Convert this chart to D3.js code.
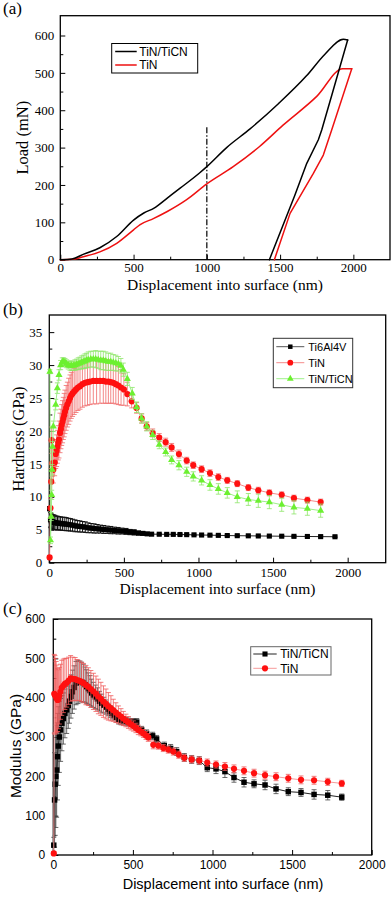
<!DOCTYPE html>
<html>
<head>
<meta charset="utf-8">
<script src="https://cdnjs.cloudflare.com/ajax/libs/d3/7.8.5/d3.min.js"></script>
<style>
  body { margin: 0; background: #fff; }
</style>
</head>
<body>
<div id="main"></div>
<script>
// ---------- (a) load vs displacement ----------
// loading branch then unloading branch; the hold point is shared
const ticnLoadDepth = [0, 80, 160, 270, 385, 500, 570, 640, 730, 820, 950, 1000, 1135, 1295, 1490, 1680, 1806, 1932, 1961];
const ticnLoad      = [0, 2, 15, 32, 62, 106, 125, 138, 165, 192, 232, 249, 300, 350, 418, 492, 550, 590, 588];
const ticnUnloadDepth = [1961, 1860, 1784, 1761, 1682, 1600, 1427];
const ticnUnload      = [588, 450, 347, 321, 258, 172, 0];
const tinLoadDepth  = [0, 100, 157, 270, 385, 500, 545, 635, 730, 860, 1000, 1180, 1360, 1520, 1750, 1927, 1989];
const tinLoad       = [0, 2, 8, 21, 44, 80, 94, 110, 129, 160, 203, 249, 303, 360, 437, 511, 511];
const tinUnloadDepth = [1989, 1852, 1795, 1727, 1568, 1499, 1461];
const tinUnload      = [511, 347, 280, 231, 124, 44, 0];
const markDepth = [1000, 1000];
const markLoad  = [0, 358];

// ---------- (b) hardness ----------
const ti64Depth = [2, 8, 14, 20, 28, 36, 45, 55, 65, 76,
                   88, 100, 113, 127, 141, 156, 172, 188, 205, 223,
                   241, 260, 280, 300, 321, 343, 365, 388, 412, 436,
                   461, 487, 514, 541, 569, 598, 627, 656, 686, 737,
                   787, 831, 876, 921, 970, 1021, 1077, 1133, 1193, 1260,
                   1334, 1401, 1475, 1558, 1640, 1730, 1819, 1915];
const ti64Hard  = [8.2, 6.5, 6.3, 6.2, 6.15, 6.1, 6.05, 6.0, 6.0, 5.95,
                   5.9, 5.9, 5.85, 5.8, 5.75, 5.7, 5.6, 5.55, 5.5, 5.45,
                   5.4, 5.3, 5.25, 5.2, 5.15, 5.1, 5.05, 5.0, 4.95, 4.9,
                   4.85, 4.8, 4.75, 4.65, 4.6, 4.5, 4.45, 4.38, 4.33, 4.32,
                   4.3, 4.3, 4.28, 4.26, 4.23, 4.2, 4.18, 4.15, 4.12, 4.1,
                   4.08, 4.06, 4.04, 4.02, 4.0, 3.98, 3.96, 3.94];
const ti64Err   = [0.3, 1.1, 1.1, 1.1, 1.1, 1.1, 1.05, 1.05, 1.0, 1.0,
                   1.0, 1.0, 1.0, 0.95, 0.95, 0.9, 0.9, 0.85, 0.85, 0.8,
                   0.8, 0.75, 0.7, 0.7, 0.65, 0.6, 0.6, 0.55, 0.55, 0.5,
                   0.5, 0.45, 0.45, 0.4, 0.4, 0.3, 0.25, 0.15, 0.1, 0.1,
                   0.1, 0.1, 0.1, 0.1, 0.1, 0.1, 0.1, 0.1, 0.1, 0.1,
                   0.1, 0.1, 0.1, 0.1, 0.1, 0.1, 0.1, 0.1];

const tinDepth = [2, 8, 13, 16, 19, 27, 36, 43, 49, 54,
                  60, 65, 72, 78, 83, 89, 94, 100, 105, 113,
                  121, 130, 139, 147, 156, 167, 179, 192, 206, 222,
                  239, 256, 273, 295, 317, 340, 362, 379, 396, 412,
                  429, 446, 463, 481, 500, 523, 552, 585, 619, 653,
                  693, 737, 780, 820, 869, 921, 965, 1021, 1077, 1133,
                  1193, 1260, 1334, 1401, 1475, 1558, 1640, 1730, 1819];
const tinHard  = [0.8, 8.3, 12.3, 18.6, 15.1, 14.1, 15.2, 16.5, 17.0, 17.6,
                  18.2, 18.7, 19.7, 20.3, 20.9, 21.4, 21.9, 22.4, 22.9, 23.5,
                  24.0, 24.5, 25.0, 25.4, 25.7, 26.0, 26.3, 26.6, 26.8, 27.1,
                  27.3, 27.4, 27.5, 27.6, 27.6, 27.6, 27.6, 27.5, 27.5, 27.4,
                  27.3, 27.1, 26.9, 26.6, 26.3, 25.6, 24.5, 23.5, 21.9, 20.7,
                  19.7, 19.0, 18.3, 17.5, 16.5, 15.5, 14.8, 14.2, 13.6, 13.0,
                  12.5, 12.0, 11.4, 11.0, 10.6, 10.3, 9.8, 9.5, 9.2];
const tinErr   = [0.3, 1.5, 2, 2, 2, 2, 2, 2.2, 2.4, 2.5,
                  2.6, 2.8, 3, 3, 3.1, 3.2, 3.2, 3.3, 3.3, 3.4,
                  3.4, 3.5, 3.5, 3.5, 3.5, 3.5, 3.5, 3.5, 3.5, 3.5,
                  3.5, 3.5, 3.5, 3.5, 3.5, 3.4, 3.4, 3.3, 3.3, 3.2,
                  3.1, 3.0, 2.9, 2.7, 2.4, 1.8, 1.0, 0.8, 0.7, 0.6,
                  0.6, 0.6, 0.6, 0.6, 0.6, 0.5, 0.5, 0.5, 0.5, 0.5,
                  0.45, 0.45, 0.45, 0.45, 0.45, 0.45, 0.45, 0.45, 0.45];

const ticnDepth = [4, 8, 13, 16, 19, 22, 27, 43, 54, 65,
                   76, 87, 96, 105, 116, 127, 139, 150, 161, 172,
                   183, 194, 206, 217, 228, 239, 250, 261, 278, 295,
                   311, 328, 345, 362, 379, 396, 412, 429, 446, 463,
                   480, 496, 523, 556, 585, 619, 653, 693, 737, 780,
                   820, 869, 921, 965, 1021, 1077, 1133, 1193, 1260, 1334,
                   1401, 1475, 1558, 1640, 1730, 1819];
const ticnHard  = [29.0, 3.4, 7.0, 10.3, 14.1, 17.6, 20.7, 24.0, 26.5, 28.5,
                   30.0, 30.5, 30.5, 30.4, 30.2, 30.0, 29.9, 29.9, 29.9, 30.0,
                   30.1, 30.2, 30.3, 30.4, 30.5, 30.6, 30.7, 30.8, 30.9, 30.9,
                   30.9, 30.8, 30.7, 30.7, 30.6, 30.5, 30.5, 30.4, 30.3, 30.2,
                   29.9, 29.3, 27.9, 25.7, 23.6, 21.9, 20.7, 19.4, 17.9, 16.8,
                   15.6, 14.8, 13.8, 13.1, 12.5, 11.8, 11.2, 10.6, 10.0, 9.6,
                   9.4, 9.2, 8.8, 8.4, 8.2, 7.9];
const ticnErr   = [0.3, 0.5, 0.6, 0.7, 0.8, 0.8, 0.8, 0.8, 0.8, 0.8,
                   0.7, 0.6, 0.6, 0.6, 0.6, 0.6, 0.7, 0.7, 0.7, 0.8,
                   0.8, 0.9, 0.9, 1.0, 1.0, 1.1, 1.1, 1.2, 1.2, 1.2,
                   1.3, 1.3, 1.4, 1.4, 1.4, 1.3, 1.3, 1.2, 1.2, 1.1,
                   1.1, 1.0, 1.0, 0.9, 0.8, 0.7, 0.7, 0.7, 0.6, 0.6,
                   0.6, 0.7, 0.7, 0.7, 0.7, 0.8, 0.8, 0.8, 0.9, 0.9,
                   1.0, 1.0, 1.0, 1.0, 1.0, 1.0];

// ---------- (c) modulus ----------
const ticnModDepth = [3, 8, 12, 16, 21, 26, 31, 38, 46, 54,
                      63, 73, 84, 94, 101, 111, 120, 131, 143, 155,
                      168, 178, 189, 200, 210, 220, 231, 241, 252, 264,
                      277, 290, 304, 317, 331, 344, 357, 370, 382, 396,
                      411, 426, 441, 456, 472, 487, 503, 524, 555, 586,
                      624, 649, 697, 737, 775, 823, 869, 917, 967, 1022,
                      1078, 1135, 1198, 1261, 1330, 1399, 1476, 1556, 1638, 1724,
                      1812];
const ticnMod      = [25, 140, 180, 200, 216, 250, 277, 300, 318, 335,
                      347, 360, 369, 380, 391, 403, 415, 426, 437, 440,
                      441, 440, 437, 433, 428, 423, 418, 412, 407, 402,
                      397, 391, 386, 381, 376, 370, 365, 360, 356, 350,
                      345, 342, 341, 340, 338, 338, 338, 338, 318, 309,
                      303, 295, 278, 271, 263, 248, 243, 240, 222, 219,
                      212, 197, 185, 181, 178, 168, 161, 159, 154, 152,
                      147];
const ticnModErr   = [20, 120, 130, 130, 120, 110, 100, 90, 80, 70,
                      65, 62, 60, 58, 56, 55, 55, 55, 55, 55,
                      52, 50, 48, 45, 43, 40, 38, 35, 32, 30,
                      28, 25, 23, 20, 18, 16, 15, 14, 13, 12,
                      12, 11, 10, 10, 10, 9, 9, 9, 9, 9,
                      9, 9, 9, 10, 10, 10, 10, 10, 10, 12,
                      15, 12, 12, 10, 12, 12, 10, 10, 12, 12,
                      8];

const tinModDepth = [3, 6, 10, 14, 18, 22, 27, 32, 38, 45,
                     53, 63, 73, 84, 96, 109, 122, 137, 150, 164,
                     177, 189, 205, 220, 236, 252, 268, 283, 299, 315,
                     331, 346, 362, 377, 393, 409, 425, 440, 456, 472,
                     488, 503, 519, 534, 550, 566, 582, 597, 628, 660,
                     691, 722, 754, 788, 823, 869, 917, 967, 1022, 1078,
                     1135, 1198, 1261, 1330, 1399, 1476, 1556, 1638, 1724, 1812];
const tinMod      = [4, 410, 407, 405, 402, 398, 394, 396, 405, 415,
                     425, 430, 435, 438, 443, 449, 448, 447, 445, 443,
                     440, 437, 432, 428, 422, 416, 410, 403, 397, 390,
                     384, 378, 373, 368, 362, 357, 352, 347, 342, 337,
                     332, 328, 323, 318, 314, 309, 304, 299, 280, 278,
                     272, 268, 263, 255, 247, 243, 240, 235, 230, 225,
                     219, 214, 208, 203, 199, 195, 191, 190, 186, 182];
const tinModErr   = [5, 100, 100, 95, 90, 85, 80, 75, 72, 70,
                     70, 68, 65, 62, 60, 58, 55, 55, 52, 50,
                     50, 50, 50, 48, 47, 46, 45, 44, 42, 40,
                     38, 35, 32, 28, 25, 22, 20, 18, 16, 15,
                     14, 13, 12, 12, 11, 10, 10, 10, 10, 9,
                     9, 9, 9, 9, 9, 9, 9, 9, 9, 10,
                     10, 10, 10, 10, 10, 10, 10, 10, 9, 8];

// ---------- ticks ----------
const xTicks      = [0, 500, 1000, 1500, 2000];
const xMinorTicks = [250, 750, 1250, 1750];
const loadTicks   = [0, 100, 200, 300, 400, 500, 600];
const loadMinor   = [50, 150, 250, 350, 450, 550];
const hardTicks   = [0, 5, 10, 15, 20, 25, 30, 35];
const hardMinor   = [2.5, 7.5, 12.5, 17.5, 22.5, 27.5, 32.5];
const modTicks    = [0, 100, 200, 300, 400, 500, 600];
const modMinor    = [50, 150, 250, 350, 450, 550];

const serif = "'Liberation Serif', 'Times New Roman', serif";
const sans = "'Liberation Sans', Arial, sans-serif";

const svg = d3.select("#main")
              .append("svg")
              .attr("width", 392)
              .attr("height", 897);

const makePanel = (o) => {
  const x = d3.scaleLinear().domain(o.xDomain).range([o.left, o.right]);
  const y = d3.scaleLinear().domain(o.yDomain).range([o.bottom, o.top]);

  svg.append("g")
     .attr("transform", "translate(0," + o.bottom + ")")
     .call(d3.axisBottom(x).tickValues(o.xMinor).tickSize(-3).tickFormat(""))
     .call(g => g.select(".domain").remove());

  svg.append("g")
     .attr("transform", "translate(" + o.left + ",0)")
     .call(d3.axisLeft(y).tickValues(o.yMinor).tickSize(-3).tickFormat(""))
     .call(g => g.select(".domain").remove());

  const xAxis = svg.append("g")
     .attr("transform", "translate(0," + o.bottom + ")")
     .call(d3.axisBottom(x).tickValues(o.xTicks).tickSize(-5).tickPadding(o.xPad).tickFormat(d3.format("d")));

  const yAxis = svg.append("g")
     .attr("transform", "translate(" + o.left + ",0)")
     .call(d3.axisLeft(y).tickValues(o.yTicks).tickSize(-5).tickPadding(o.yPad).tickFormat(d3.format("d")));

  [xAxis, yAxis].forEach(a => {
    a.select(".domain").remove();
    a.attr("font-family", o.font).attr("font-size", o.tickSize);
    a.selectAll("text").attr("fill", "#000");
  });

  svg.selectAll(".tick line").attr("stroke", "#000");

  svg.append("rect")
     .attr("x", o.left)
     .attr("y", o.top)
     .attr("width", o.right - o.left)
     .attr("height", o.bottom - o.top)
     .attr("fill", "none")
     .attr("stroke", "#000")
     .attr("stroke-width", 1.3);

  svg.append("text")
     .attr("x", o.xTitleX)
     .attr("y", o.xTitleY)
     .attr("text-anchor", "middle")
     .attr("font-family", o.font)
     .attr("font-size", o.titleSize)
     .text("Displacement into surface (nm)");

  svg.append("text")
     .attr("transform", "translate(" + o.yTitleX + "," + o.yTitleY + ") rotate(-90)")
     .attr("text-anchor", "middle")
     .attr("dy", "0.35em")
     .attr("font-family", o.font)
     .attr("font-size", o.yTitleSize)
     .text(o.yTitle);

  svg.append("text")
     .attr("x", 3)
     .attr("y", o.letterY)
     .attr("font-family", serif)
     .attr("font-size", 17)
     .text(o.letter);

  return { x: x, y: y };
};

const drawSeries = (p, depth, val, err, s) => {
  const pts = d3.zip(depth, val, err);

  svg.append("g")
     .attr("stroke", s.errColor)
     .attr("stroke-width", s.errWidth || 0.8)
     .attr("fill", "none")
     .selectAll("path")
     .data(pts)
     .join("path")
     .attr("d", function(d) {
       const cx = p.x(d[0]);
       const y1 = p.y(d[1] - d[2]);
       const y2 = p.y(d[1] + d[2]);
       return "M" + cx + "," + y1 + "V" + y2 + "M" + (cx - 2.5) + "," + y1 + "h5M" + (cx - 2.5) + "," + y2 + "h5";
     });

  svg.append("path")
     .datum(pts)
     .attr("d", d3.line().x(d => p.x(d[0])).y(d => p.y(d[1])))
     .attr("fill", "none")
     .attr("stroke", s.lineColor)
     .attr("stroke-width", 1);

  svg.append("g")
     .selectAll("path")
     .data(pts)
     .join("path")
     .attr("transform", d => "translate(" + p.x(d[0]) + "," + p.y(d[1]) + ")")
     .attr("d", d3.symbol(s.symbol, s.size))
     .attr("fill", s.color);
};

const drawLegend = (box, items, fontSize) => {
  svg.append("rect")
     .attr("x", box.x).attr("y", box.y)
     .attr("width", box.w).attr("height", box.h)
     .attr("fill", "#fff")
     .attr("stroke", box.stroke)
     .attr("stroke-width", 1);

  items.forEach(function(it, i) {
    const cy = box.y + box.first + i * box.step;
    svg.append("line")
       .attr("x1", box.x + box.lineFrom).attr("x2", box.x + box.lineTo)
       .attr("y1", cy).attr("y2", cy)
       .attr("stroke", it.lineColor)
       .attr("stroke-width", it.lineWidth || 1);
    if (it.symbol) {
      svg.append("path")
         .attr("transform", "translate(" + (box.x + (box.lineFrom + box.lineTo) / 2) + "," + cy + ")")
         .attr("d", d3.symbol(it.symbol, it.size))
         .attr("fill", it.color);
    }
    svg.append("text")
       .attr("x", box.x + box.textX)
       .attr("y", cy)
       .attr("dy", "0.36em")
       .attr("font-family", sans)
       .attr("font-size", fontSize)
       .text(it.name);
  });
};

// ---------- panel (a) ----------
const pa = makePanel({
  left: 60.3, right: 390, top: 15.7, bottom: 259.7,
  xDomain: [0, 2250], yDomain: [0, 653],
  xTicks: xTicks, xMinor: xMinorTicks, yTicks: loadTicks, yMinor: loadMinor,
  font: serif, tickSize: 13, titleSize: 15.5, yTitleSize: 16.5, xPad: 3, yPad: 6,
  xTitleX: 225, xTitleY: 290, yTitleX: 22, yTitleY: 137.7, yTitle: "Load (mN)",
  letter: "(a)", letterY: 14
});

const smoothLine = d3.line()
                     .x(d => pa.x(d[0]))
                     .y(d => pa.y(d[1]))
                     .curve(d3.curveMonotoneX);
const plainLine = d3.line()
                    .x(d => pa.x(d[0]))
                    .y(d => pa.y(d[1]));

svg.append("path")
   .datum(d3.zip(markDepth, markLoad))
   .attr("d", plainLine)
   .attr("stroke", "#000")
   .attr("stroke-width", 1.2)
   .attr("stroke-dasharray", "6,2,1.5,2");

const curves = [
  { depth: tinLoadDepth, load: tinLoad, line: smoothLine, color: "#ee1111" },
  { depth: tinUnloadDepth, load: tinUnload, line: plainLine, color: "#ee1111" },
  { depth: ticnLoadDepth, load: ticnLoad, line: smoothLine, color: "#000" },
  { depth: ticnUnloadDepth, load: ticnUnload, line: plainLine, color: "#000" }
];

curves.forEach(c => {
  svg.append("path")
     .datum(d3.zip(c.depth, c.load))
     .attr("d", c.line)
     .attr("fill", "none")
     .attr("stroke", c.color)
     .attr("stroke-width", 1.5)
     .attr("stroke-linejoin", "round")
     .attr("stroke-linecap", "round");
});

drawLegend({ x: 111.7, y: 43.5, w: 86, h: 29.5, stroke: "#000", first: 8, step: 13.5,
             lineFrom: 3.5, lineTo: 25, textX: 27.6 },
           [{ name: "TiN/TiCN", lineColor: "#000", lineWidth: 1.5 },
            { name: "TiN", lineColor: "#ee1111", lineWidth: 1.5 }], 12);

// ---------- panel (b) ----------
const pb = makePanel({
  left: 49.3, right: 385.7, top: 315, bottom: 562.7,
  xDomain: [0, 2255], yDomain: [0, 37.6],
  xTicks: xTicks, xMinor: xMinorTicks, yTicks: hardTicks, yMinor: hardMinor,
  font: serif, tickSize: 13, titleSize: 15.5, yTitleSize: 16.5, xPad: 5, yPad: 7,
  xTitleX: 217.5, xTitleY: 594, yTitleX: 18, yTitleY: 439, yTitle: "Hardness (GPa)",
  letter: "(b)", letterY: 315
});

drawSeries(pb, ti64Depth, ti64Hard, ti64Err,
           { errColor: "#111", errWidth: 1, lineColor: "#222", color: "#000", symbol: d3.symbolSquare, size: 26 });
drawSeries(pb, tinDepth, tinHard, tinErr,
           { errColor: "#f06a6a", lineColor: "#f58a8a", color: "#ff1010", symbol: d3.symbolCircle, size: 30 });
drawSeries(pb, ticnDepth, ticnHard, ticnErr,
           { errColor: "#8ee66a", lineColor: "#9ff08a", color: "#6cf030", symbol: d3.symbolTriangle, size: 22 });

drawLegend({ x: 273.3, y: 338.3, w: 79.4, h: 49.4, stroke: "#333", first: 8.4, step: 16,
             lineFrom: 3, lineTo: 31, textX: 35 },
           [{ name: "Ti6Al4V", lineColor: "#555", symbol: d3.symbolSquare, size: 20, color: "#000" },
            { name: "TiN", lineColor: "#f58a8a", symbol: d3.symbolCircle, size: 26, color: "#ff1010" },
            { name: "TiN/TiCN", lineColor: "#9ff08a", symbol: d3.symbolTriangle, size: 20, color: "#6cf030" }], 11);

// ---------- panel (c) ----------
const pc = makePanel({
  left: 53.3, right: 371.7, top: 619, bottom: 855,
  xDomain: [0, 2000], yDomain: [0, 600],
  xTicks: xTicks, xMinor: xMinorTicks, yTicks: modTicks, yMinor: modMinor,
  font: sans, tickSize: 12, titleSize: 14.5, yTitleSize: 15.5, xPad: 5, yPad: 8,
  xTitleX: 223, xTitleY: 889, yTitleX: 15.5, yTitleY: 746, yTitle: "Modulus (GPa)",
  letter: "(c)", letterY: 614
});

drawSeries(pc, ticnModDepth, ticnMod, ticnModErr,
           { errColor: "#444", lineColor: "#222", color: "#000", symbol: d3.symbolSquare, size: 30 });
drawSeries(pc, tinModDepth, tinMod, tinModErr,
           { errColor: "#f05a5a", lineColor: "#f79a9a", color: "#ff1010", symbol: d3.symbolCircle, size: 30 });

drawLegend({ x: 250.7, y: 646.7, w: 80.3, h: 28.3, stroke: "#666", first: 7.3, step: 14.3,
             lineFrom: 2.6, lineTo: 26, textX: 29.5 },
           [{ name: "TiN/TiCN", lineColor: "#222", symbol: d3.symbolSquare, size: 26, color: "#000" },
            { name: "TiN", lineColor: "#f79a9a", symbol: d3.symbolCircle, size: 30, color: "#ff1010" }], 12);
</script>
</body>
</html>
